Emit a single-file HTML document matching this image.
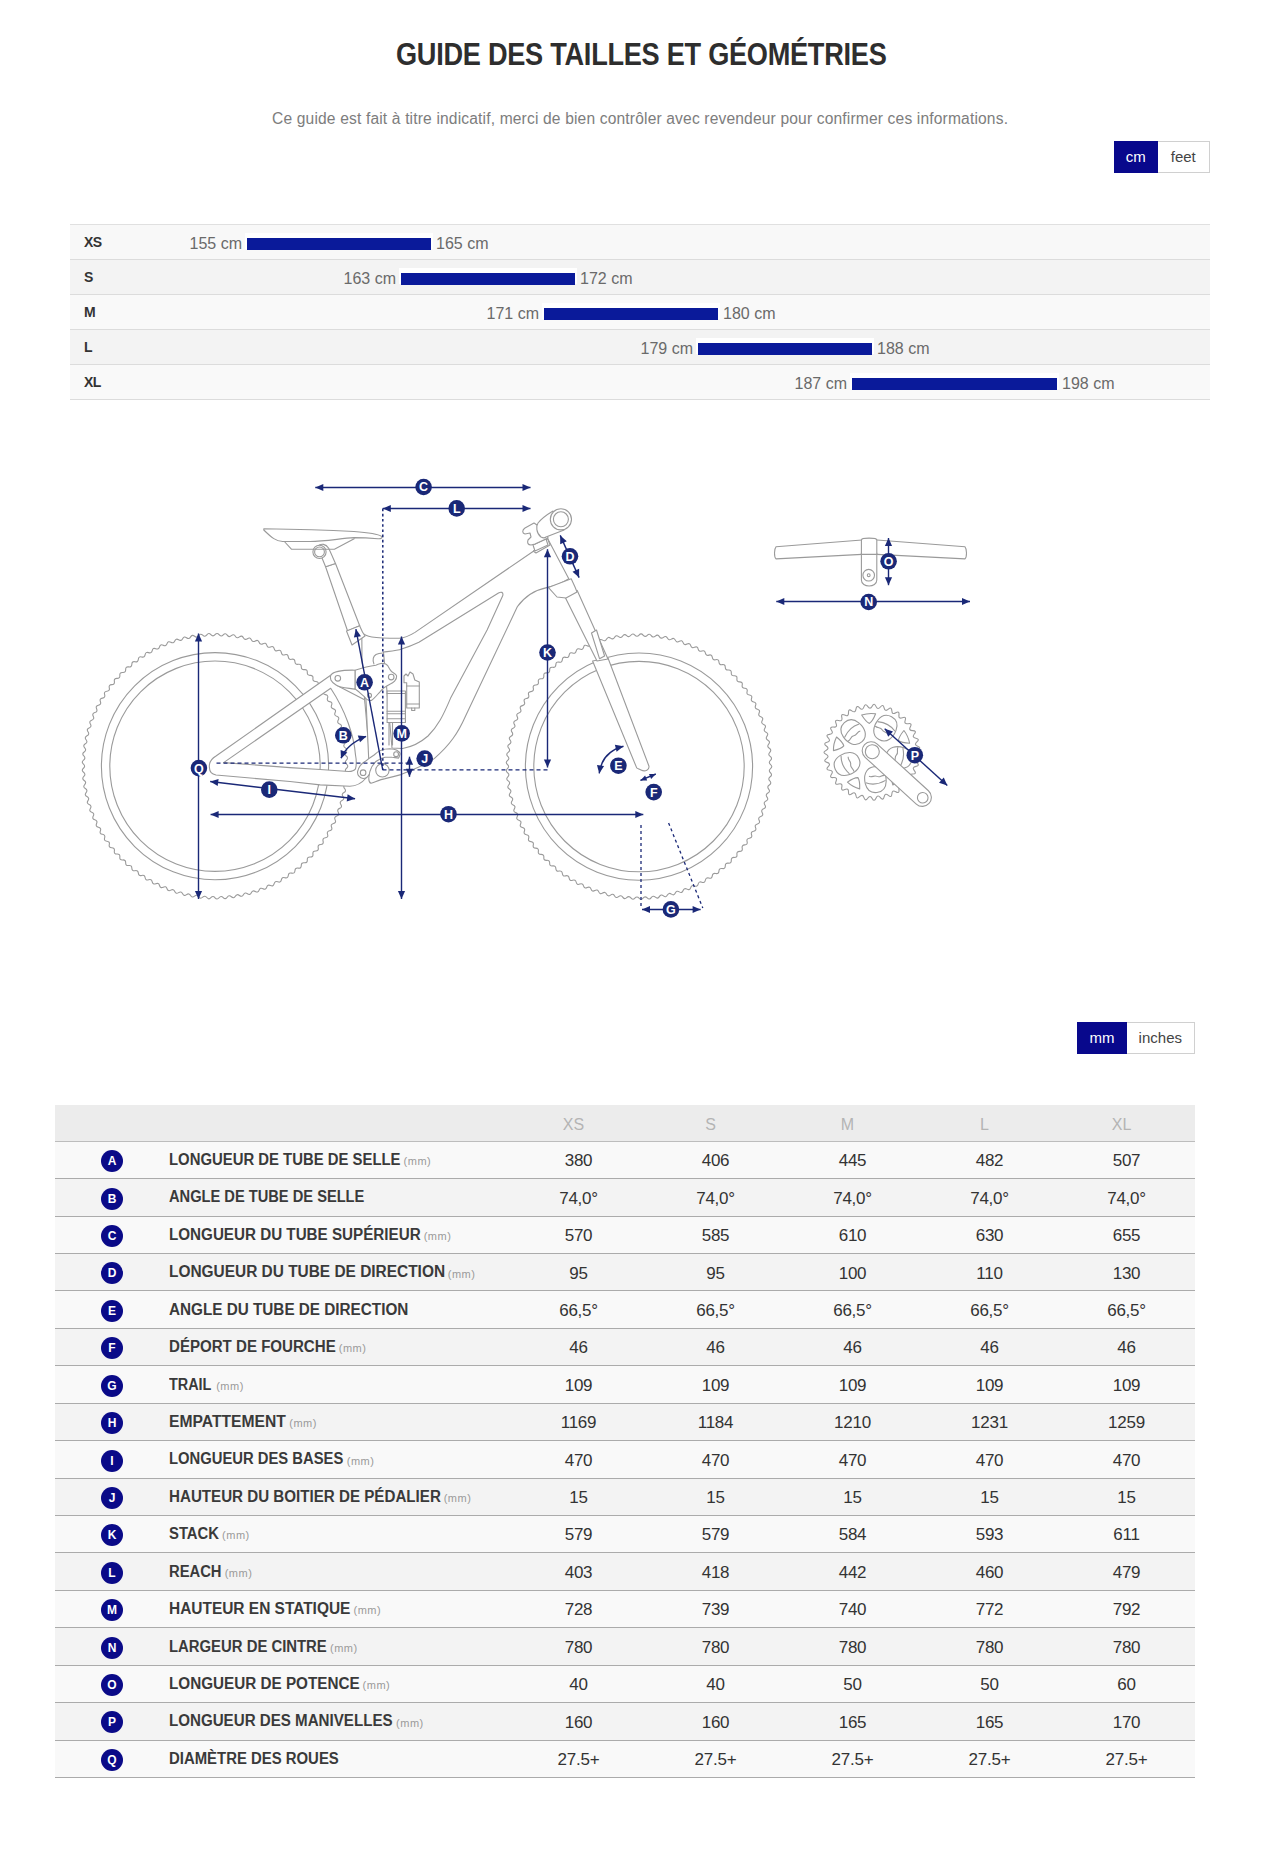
<!DOCTYPE html>
<html><head><meta charset="utf-8">
<style>
*{margin:0;padding:0;box-sizing:border-box}
html,body{width:1270px;height:1850px;background:#fff;overflow:hidden}
body{position:relative;font-family:"Liberation Sans",sans-serif;color:#333}
.a{position:absolute;white-space:nowrap;line-height:1}
#title{left:396px;top:38.5px;font-size:31px;font-weight:700;color:#2e2e2e;letter-spacing:-0.3px;transform:scaleX(0.8755);transform-origin:0 0}
#sub{left:272px;top:111px;font-size:15.6px;color:#7d7d7d;letter-spacing:0.155px}
.tog{position:absolute;display:flex;background:#fff}
.tog div{display:flex;align-items:center;justify-content:center;font-size:15px;color:#444}
.tog .on{background:#08088c;color:#fff}
.tog .off{border:1px solid #d0d0d0;border-left:none}
#sz{position:absolute;left:70px;top:224px;width:1140px;height:176px;border-top:1px solid #e0e0e0}
#sz .r{position:absolute;left:0;width:1140px;height:35px;border-bottom:1px solid #dcdcdc}
#sz .lb{position:absolute;left:14px;font-size:14px;font-weight:700;color:#333;line-height:1}
.n{position:absolute;font-size:16px;color:#6a6a6a;line-height:1;white-space:nowrap}
.bar{position:absolute;height:12px;background:#0a1a9a;box-shadow:0 -3px 0 2px #fff}
.tb{position:absolute}
.c{position:absolute;left:46px;width:22px;height:22px;border-radius:50%;background:#0a0a88;color:#fff;font-size:12px;font-weight:700;display:flex;align-items:center;justify-content:center;line-height:1}
.lab{position:absolute;left:114px;font-size:16px;font-weight:700;color:#3a3a3a;line-height:1;transform-origin:0 0;white-space:nowrap}
.mm{position:absolute;font-size:11px;letter-spacing:0.5px;font-weight:400;color:#9a9a9a;line-height:1;white-space:nowrap}
.v{position:absolute;width:137px;text-align:center;font-size:17px;letter-spacing:-0.25px;color:#333;line-height:1}
</style></head><body>
<div class="a" id="title">GUIDE DES TAILLES ET GÉOMÉTRIES</div>
<div class="a" id="sub">Ce guide est fait à titre indicatif, merci de bien contrôler avec revendeur pour confirmer ces informations.</div>
<div class="tog" style="left:1113.5px;top:140.5px;height:32.5px"><div class="on" style="width:44.5px;padding-bottom:1px">cm</div><div class="off" style="width:51.5px;padding-bottom:1px">feet</div></div>

<div id="sz">
<div class="r" style="top:0;background:#f8f8f8"></div>
<div class="r" style="top:35px;background:#f3f3f3"></div>
<div class="r" style="top:70px;background:#f9f9f9"></div>
<div class="r" style="top:105px;background:#f3f3f3"></div>
<div class="r" style="top:140px;background:#f9f9f9"></div>
</div>
<div class="a" style="left:84px;top:235.3px;font-size:14px;font-weight:700;color:#333;letter-spacing:-0.6px">XS</div>
<div class="bar" style="left:247px;top:238px;width:184px"></div>
<div class="n" style="right:1028px;top:235.8px">155 cm</div>
<div class="n" style="left:436px;top:235.8px">165 cm</div>
<div class="a" style="left:84px;top:270.3px;font-size:14px;font-weight:700;color:#333;letter-spacing:-0.6px">S</div>
<div class="bar" style="left:401px;top:273px;width:174px"></div>
<div class="n" style="right:874px;top:270.8px">163 cm</div>
<div class="n" style="left:580px;top:270.8px">172 cm</div>
<div class="a" style="left:84px;top:305.3px;font-size:14px;font-weight:700;color:#333;letter-spacing:-0.6px">M</div>
<div class="bar" style="left:544px;top:308px;width:174px"></div>
<div class="n" style="right:731px;top:305.8px">171 cm</div>
<div class="n" style="left:723px;top:305.8px">180 cm</div>
<div class="a" style="left:84px;top:340.3px;font-size:14px;font-weight:700;color:#333;letter-spacing:-0.6px">L</div>
<div class="bar" style="left:698px;top:343px;width:174px"></div>
<div class="n" style="right:577px;top:340.8px">179 cm</div>
<div class="n" style="left:877px;top:340.8px">188 cm</div>
<div class="a" style="left:84px;top:375.3px;font-size:14px;font-weight:700;color:#333;letter-spacing:-0.6px">XL</div>
<div class="bar" style="left:852px;top:378px;width:205px"></div>
<div class="n" style="right:423px;top:375.8px">187 cm</div>
<div class="n" style="left:1062px;top:375.8px">198 cm</div>

<svg style="position:absolute;left:0;top:0" width="1270" height="1000" viewBox="0 0 1270 1000">
<path d="M346.57,764.19Q349.00,766.20 346.57,768.21Q344.14,770.22 346.44,772.37Q348.74,774.53 346.19,776.38Q343.64,778.24 345.80,780.53Q347.96,782.83 345.30,784.52Q342.64,786.21 344.66,788.64Q346.67,791.06 343.91,792.59Q341.15,794.11 343.01,796.66Q344.87,799.20 342.02,800.55Q339.17,801.90 340.87,804.55Q342.57,807.21 339.64,808.38Q336.71,809.55 338.24,812.31Q339.77,815.06 336.78,816.05Q333.78,817.03 335.14,819.88Q336.49,822.73 333.44,823.52Q330.39,824.32 331.57,827.24Q332.74,830.17 329.65,830.77Q326.55,831.38 327.55,834.37Q328.54,837.37 325.41,837.78Q322.29,838.19 323.09,841.24Q323.90,844.29 320.75,844.50Q317.60,844.72 318.22,847.81Q318.83,850.91 315.68,850.93Q312.52,850.95 312.94,854.07Q313.36,857.20 310.21,857.02Q307.07,856.85 307.29,859.99Q307.52,863.14 304.38,862.77Q301.25,862.39 301.28,865.55Q301.31,868.70 298.21,868.14Q295.11,867.57 294.94,870.72Q294.77,873.87 291.71,873.11Q288.65,872.35 288.29,875.49Q287.92,878.62 284.91,877.67Q281.91,876.73 281.35,879.83Q280.79,882.94 277.85,881.80Q274.91,880.67 274.16,883.74Q273.41,886.80 270.54,885.49Q267.67,884.18 266.74,887.19Q265.80,890.20 263.02,888.71Q260.24,887.22 259.11,890.17Q257.99,893.12 255.31,891.46Q252.62,889.80 251.32,892.67Q250.02,895.54 247.44,893.72Q244.87,891.90 243.39,894.69Q241.91,897.47 239.45,895.49Q237.00,893.51 235.35,896.20Q233.70,898.89 231.37,896.76Q229.04,894.64 227.22,897.22Q225.41,899.80 223.22,897.53Q221.03,895.26 219.05,897.72Q217.08,900.18 215.04,897.78Q212.99,895.38 210.87,897.72Q208.75,900.05 206.86,897.53Q204.96,895.01 202.70,897.21Q200.44,899.41 198.71,896.77Q196.97,894.14 194.58,896.19Q192.19,898.24 190.62,895.51Q189.06,892.77 186.54,894.67Q184.02,896.57 182.63,893.74Q181.24,890.91 178.61,892.65Q175.98,894.39 174.76,891.48Q173.55,888.57 170.82,890.14Q168.08,891.72 167.05,888.74Q166.02,885.76 163.20,887.16Q160.37,888.56 159.53,885.52Q158.68,882.48 155.78,883.70Q152.87,884.93 152.22,881.84Q151.56,878.75 148.59,879.79Q145.61,880.83 145.15,877.71Q144.69,874.59 141.65,875.45Q138.62,876.30 138.35,873.15Q138.09,870.01 135.00,870.67Q131.92,871.34 131.85,868.18Q131.78,865.03 128.66,865.50Q125.54,865.97 125.67,862.82Q125.80,859.66 122.66,859.94Q119.51,860.21 119.84,857.08Q120.16,853.94 117.01,854.02Q113.85,854.09 114.37,850.98Q114.89,847.87 111.74,847.75Q108.59,847.64 109.29,844.56Q110.00,841.49 106.87,841.18Q103.73,840.86 104.63,837.84Q105.53,834.82 102.41,834.31Q99.30,833.80 100.39,830.84Q101.47,827.88 98.40,827.18Q95.32,826.48 96.59,823.59Q97.86,820.70 94.83,819.81Q91.81,818.92 93.25,816.12Q94.70,813.31 91.73,812.24Q88.77,811.16 90.38,808.45Q92.00,805.74 89.11,804.48Q86.22,803.22 88.00,800.62Q89.78,798.02 86.97,796.58Q84.16,795.15 86.10,792.66Q88.04,790.17 85.33,788.56Q82.62,786.96 84.71,784.59Q86.80,782.23 84.19,780.46Q81.58,778.69 83.82,776.46Q86.05,774.23 83.56,772.30Q81.06,770.37 83.43,768.28Q85.80,766.20 83.43,764.12Q81.06,762.03 83.56,760.10Q86.05,758.17 83.82,755.94Q81.58,753.71 84.19,751.94Q86.80,750.17 84.71,747.81Q82.62,745.44 85.33,743.84Q88.04,742.23 86.10,739.74Q84.16,737.25 86.97,735.82Q89.78,734.38 88.00,731.78Q86.22,729.18 89.11,727.92Q92.00,726.66 90.38,723.95Q88.77,721.24 91.73,720.16Q94.70,719.09 93.25,716.28Q91.81,713.48 94.83,712.59Q97.86,711.70 96.59,708.81Q95.32,705.92 98.40,705.22Q101.47,704.52 100.39,701.56Q99.30,698.60 102.41,698.09Q105.53,697.58 104.63,694.56Q103.73,691.54 106.87,691.22Q110.00,690.91 109.29,687.84Q108.59,684.76 111.74,684.65Q114.89,684.53 114.37,681.42Q113.85,678.31 117.01,678.38Q120.16,678.46 119.84,675.32Q119.51,672.19 122.66,672.46Q125.80,672.74 125.67,669.58Q125.54,666.43 128.66,666.90Q131.78,667.37 131.85,664.22Q131.92,661.06 135.00,661.73Q138.09,662.39 138.35,659.25Q138.62,656.10 141.65,656.95Q144.69,657.81 145.15,654.69Q145.61,651.57 148.59,652.61Q151.56,653.65 152.22,650.56Q152.87,647.47 155.78,648.70Q158.68,649.92 159.53,646.88Q160.37,643.84 163.20,645.24Q166.02,646.64 167.05,643.66Q168.08,640.68 170.82,642.26Q173.55,643.83 174.76,640.92Q175.98,638.01 178.61,639.75Q181.24,641.49 182.63,638.66Q184.02,635.83 186.54,637.73Q189.06,639.63 190.62,636.89Q192.19,634.16 194.58,636.21Q196.97,638.26 198.71,635.63Q200.44,632.99 202.70,635.19Q204.96,637.39 206.86,634.87Q208.75,632.35 210.87,634.68Q212.99,637.02 215.04,634.62Q217.08,632.22 219.05,634.68Q221.03,637.14 223.22,634.87Q225.41,632.60 227.22,635.18Q229.04,637.76 231.37,635.64Q233.70,633.51 235.35,636.20Q237.00,638.89 239.45,636.91Q241.91,634.93 243.39,637.71Q244.87,640.50 247.44,638.68Q250.02,636.86 251.32,639.73Q252.62,642.60 255.31,640.94Q257.99,639.28 259.11,642.23Q260.24,645.18 263.02,643.69Q265.80,642.20 266.74,645.21Q267.67,648.22 270.54,646.91Q273.41,645.60 274.16,648.66Q274.91,651.73 277.85,650.60Q280.79,649.46 281.35,652.57Q281.91,655.67 284.91,654.73Q287.92,653.78 288.29,656.91Q288.65,660.05 291.71,659.29Q294.77,658.53 294.94,661.68Q295.11,664.83 298.21,664.26Q301.31,663.70 301.28,666.85Q301.25,670.01 304.38,669.63Q307.52,669.26 307.29,672.41Q307.07,675.55 310.21,675.38Q313.36,675.20 312.94,678.33Q312.52,681.45 315.68,681.47Q318.83,681.49 318.22,684.59Q317.60,687.68 320.75,687.90Q323.90,688.11 323.09,691.16Q322.29,694.21 325.41,694.62Q328.54,695.03 327.55,698.03Q326.55,701.02 329.65,701.63Q332.74,702.23 331.57,705.16Q330.39,708.08 333.44,708.88Q336.49,709.67 335.14,712.52Q333.78,715.37 336.78,716.35Q339.77,717.34 338.24,720.09Q336.71,722.85 339.64,724.02Q342.57,725.19 340.87,727.85Q339.17,730.50 342.02,731.85Q344.87,733.20 343.01,735.74Q341.15,738.29 343.91,739.81Q346.67,741.34 344.66,743.76Q342.64,746.19 345.30,747.88Q347.96,749.57 345.80,751.87Q343.64,754.16 346.19,756.02Q348.74,757.87 346.44,760.03Q344.14,762.18 346.57,764.19Z" fill="none" stroke="#9a9a9a" stroke-width="1.1"/>
<circle cx="215" cy="766.2" r="113.6" fill="none" stroke="#9a9a9a" stroke-width="1.1"/>
<circle cx="215" cy="766.2" r="105.2" fill="none" stroke="#9a9a9a" stroke-width="1.1"/>
<path d="M770.57,764.59Q773.00,766.60 770.57,768.61Q768.14,770.62 770.44,772.77Q772.74,774.93 770.19,776.78Q767.64,778.64 769.80,780.93Q771.96,783.23 769.30,784.92Q766.64,786.61 768.66,789.04Q770.67,791.46 767.91,792.99Q765.15,794.51 767.01,797.06Q768.87,799.60 766.02,800.95Q763.17,802.30 764.87,804.95Q766.57,807.61 763.64,808.78Q760.71,809.95 762.24,812.71Q763.77,815.46 760.78,816.45Q757.78,817.43 759.14,820.28Q760.49,823.13 757.44,823.92Q754.39,824.72 755.57,827.64Q756.74,830.57 753.65,831.17Q750.55,831.78 751.55,834.77Q752.54,837.77 749.41,838.18Q746.29,838.59 747.09,841.64Q747.90,844.69 744.75,844.90Q741.60,845.12 742.22,848.21Q742.83,851.31 739.68,851.33Q736.52,851.35 736.94,854.47Q737.36,857.60 734.21,857.42Q731.07,857.25 731.29,860.39Q731.52,863.54 728.38,863.17Q725.25,862.79 725.28,865.95Q725.31,869.10 722.21,868.54Q719.11,867.97 718.94,871.12Q718.77,874.27 715.71,873.51Q712.65,872.75 712.29,875.89Q711.92,879.02 708.91,878.07Q705.91,877.13 705.35,880.23Q704.79,883.34 701.85,882.20Q698.91,881.07 698.16,884.14Q697.41,887.20 694.54,885.89Q691.67,884.58 690.74,887.59Q689.80,890.60 687.02,889.11Q684.24,887.62 683.11,890.57Q681.99,893.52 679.31,891.86Q676.62,890.20 675.32,893.07Q674.02,895.94 671.44,894.12Q668.87,892.30 667.39,895.09Q665.91,897.87 663.45,895.89Q661.00,893.91 659.35,896.60Q657.70,899.29 655.37,897.16Q653.04,895.04 651.22,897.62Q649.41,900.20 647.22,897.93Q645.03,895.66 643.05,898.12Q641.08,900.58 639.04,898.18Q636.99,895.78 634.87,898.12Q632.75,900.45 630.86,897.93Q628.96,895.41 626.70,897.61Q624.44,899.81 622.71,897.17Q620.97,894.54 618.58,896.59Q616.19,898.64 614.62,895.91Q613.06,893.17 610.54,895.07Q608.02,896.97 606.63,894.14Q605.24,891.31 602.61,893.05Q599.98,894.79 598.76,891.88Q597.55,888.97 594.82,890.54Q592.08,892.12 591.05,889.14Q590.02,886.16 587.20,887.56Q584.37,888.96 583.53,885.92Q582.68,882.88 579.78,884.10Q576.87,885.33 576.22,882.24Q575.56,879.15 572.59,880.19Q569.61,881.23 569.15,878.11Q568.69,874.99 565.65,875.85Q562.62,876.70 562.35,873.55Q562.09,870.41 559.00,871.07Q555.92,871.74 555.85,868.58Q555.78,865.43 552.66,865.90Q549.54,866.37 549.67,863.22Q549.80,860.06 546.66,860.34Q543.51,860.61 543.84,857.48Q544.16,854.34 541.01,854.42Q537.85,854.49 538.37,851.38Q538.89,848.27 535.74,848.15Q532.59,848.04 533.29,844.96Q534.00,841.89 530.87,841.58Q527.73,841.26 528.63,838.24Q529.53,835.22 526.41,834.71Q523.30,834.20 524.39,831.24Q525.47,828.28 522.40,827.58Q519.32,826.88 520.59,823.99Q521.86,821.10 518.83,820.21Q515.81,819.32 517.25,816.52Q518.70,813.71 515.73,812.64Q512.77,811.56 514.38,808.85Q516.00,806.14 513.11,804.88Q510.22,803.62 512.00,801.02Q513.78,798.42 510.97,796.98Q508.16,795.55 510.10,793.06Q512.04,790.57 509.33,788.96Q506.62,787.36 508.71,784.99Q510.80,782.63 508.19,780.86Q505.58,779.09 507.82,776.86Q510.05,774.63 507.56,772.70Q505.06,770.77 507.43,768.68Q509.80,766.60 507.43,764.52Q505.06,762.43 507.56,760.50Q510.05,758.57 507.82,756.34Q505.58,754.11 508.19,752.34Q510.80,750.57 508.71,748.21Q506.62,745.84 509.33,744.24Q512.04,742.63 510.10,740.14Q508.16,737.65 510.97,736.22Q513.78,734.78 512.00,732.18Q510.22,729.58 513.11,728.32Q516.00,727.06 514.38,724.35Q512.77,721.64 515.73,720.56Q518.70,719.49 517.25,716.68Q515.81,713.88 518.83,712.99Q521.86,712.10 520.59,709.21Q519.32,706.32 522.40,705.62Q525.47,704.92 524.39,701.96Q523.30,699.00 526.41,698.49Q529.53,697.98 528.63,694.96Q527.73,691.94 530.87,691.62Q534.00,691.31 533.29,688.24Q532.59,685.16 535.74,685.05Q538.89,684.93 538.37,681.82Q537.85,678.71 541.01,678.78Q544.16,678.86 543.84,675.72Q543.51,672.59 546.66,672.86Q549.80,673.14 549.67,669.98Q549.54,666.83 552.66,667.30Q555.78,667.77 555.85,664.62Q555.92,661.46 559.00,662.13Q562.09,662.79 562.35,659.65Q562.62,656.50 565.65,657.35Q568.69,658.21 569.15,655.09Q569.61,651.97 572.59,653.01Q575.56,654.05 576.22,650.96Q576.87,647.87 579.78,649.10Q582.68,650.32 583.53,647.28Q584.37,644.24 587.20,645.64Q590.02,647.04 591.05,644.06Q592.08,641.08 594.82,642.66Q597.55,644.23 598.76,641.32Q599.98,638.41 602.61,640.15Q605.24,641.89 606.63,639.06Q608.02,636.23 610.54,638.13Q613.06,640.03 614.62,637.29Q616.19,634.56 618.58,636.61Q620.97,638.66 622.71,636.03Q624.44,633.39 626.70,635.59Q628.96,637.79 630.86,635.27Q632.75,632.75 634.87,635.08Q636.99,637.42 639.04,635.02Q641.08,632.62 643.05,635.08Q645.03,637.54 647.22,635.27Q649.41,633.00 651.22,635.58Q653.04,638.16 655.37,636.04Q657.70,633.91 659.35,636.60Q661.00,639.29 663.45,637.31Q665.91,635.33 667.39,638.11Q668.87,640.90 671.44,639.08Q674.02,637.26 675.32,640.13Q676.62,643.00 679.31,641.34Q681.99,639.68 683.11,642.63Q684.24,645.58 687.02,644.09Q689.80,642.60 690.74,645.61Q691.67,648.62 694.54,647.31Q697.41,646.00 698.16,649.06Q698.91,652.13 701.85,651.00Q704.79,649.86 705.35,652.97Q705.91,656.07 708.91,655.13Q711.92,654.18 712.29,657.31Q712.65,660.45 715.71,659.69Q718.77,658.93 718.94,662.08Q719.11,665.23 722.21,664.66Q725.31,664.10 725.28,667.25Q725.25,670.41 728.38,670.03Q731.52,669.66 731.29,672.81Q731.07,675.95 734.21,675.78Q737.36,675.60 736.94,678.73Q736.52,681.85 739.68,681.87Q742.83,681.89 742.22,684.99Q741.60,688.08 744.75,688.30Q747.90,688.51 747.09,691.56Q746.29,694.61 749.41,695.02Q752.54,695.43 751.55,698.43Q750.55,701.42 753.65,702.03Q756.74,702.63 755.57,705.56Q754.39,708.48 757.44,709.28Q760.49,710.07 759.14,712.92Q757.78,715.77 760.78,716.75Q763.77,717.74 762.24,720.49Q760.71,723.25 763.64,724.42Q766.57,725.59 764.87,728.25Q763.17,730.90 766.02,732.25Q768.87,733.60 767.01,736.14Q765.15,738.69 767.91,740.21Q770.67,741.74 768.66,744.16Q766.64,746.59 769.30,748.28Q771.96,749.97 769.80,752.27Q767.64,754.56 770.19,756.42Q772.74,758.27 770.44,760.43Q768.14,762.58 770.57,764.59Z" fill="none" stroke="#9a9a9a" stroke-width="1.1"/>
<circle cx="639" cy="766.6" r="113.6" fill="none" stroke="#9a9a9a" stroke-width="1.1"/>
<circle cx="639" cy="766.6" r="105.2" fill="none" stroke="#9a9a9a" stroke-width="1.1"/>
<g fill="#fff" stroke="#9a9a9a" stroke-width="1.1" stroke-linejoin="round" stroke-linecap="round">
<path fill-rule="evenodd" d="M209.5,768 C208.5,762 211,759 216,756 L331,675 C335,672 339,673 340,677 L338,686 L365,700 L371.4,752.4 L366,778 C362,783 356,786 349.8,786.2 L320.2,784.9 L290,781.5 L216,775 C211,774 209.5,771 209.5,768 Z M223.6,762.6 L330.7,688.3 C345,710 354,735 355.5,755 C356.5,760 356.5,765 355.5,768.9 C354,771 351,771.5 348.6,771.5 L320.2,769.5 L290,767.6 Z"/>
<path d="M363,640 L364.4,697 L368.9,748 L380,748 L380.2,691 L377,640 Z"/>
<path fill-rule="evenodd" d="M361.8,632.4 C366,637 372,638.3 399.2,638.3 C405,638 410,635.5 415,632.4 L533.4,551.2 L547.6,538.6 L568.8,578.7 C562,583 555,586 547.6,587.4 C535.7,589.8 525,596 517.3,606.8 L465.7,715.7 C458,733 450,745 434.2,758.6 C424,766 416,768 400.9,774.6 C394,776.5 390,777.5 385.1,778.6 C380,779.5 375,782 370.9,783.3 C368,782 368.5,778 369.4,773.9 L366,700 L362,660 Z M383.5,652 C392,651 398,650.5 401.6,649 C408,647 413,645 418.9,642.2 L498.5,593 C501,591.5 503.5,592 502.8,595.5 L487.1,630 L450.6,698.1 C443,716 438,726 428,736 C420,743 411,747 402.7,748.5 L392,748 Z"/>
<path d="M355,670.2 C362,668 370,666 375.8,665.2 C379,664 381,663.3 382.1,663.3 C385,663.5 387,664.5 387.8,665.8 C389,668 390,670 391.5,671.5 C394,673 396,674 396.6,676 C397,680 393,683 390.3,684 C386,686 383,688 380.2,691.6 C377,695 374,699 371.4,700.4 C368,701 366,699 364.4,696.7 C360,693 357,690 355,689.1 Z"/>
<path d="M331,675 C334,671 345,670 355,670.2 L355,689.1 C348,688 340,688 336,685 C331,682 329,678 331,675 Z"/>
<circle cx="337.8" cy="678.3" r="2.8"/><circle cx="391.2" cy="677.1" r="2.8"/><circle cx="369.5" cy="695.4" r="2"/>
<path d="M373.9,663.9 C372.5,660 373,656.5 376,654.5 C378,653.5 380,653.2 383,653" fill="none"/>
<path d="M387.1,691 L405.4,691 L405.4,722.5 L387.1,722.5 Z"/>
<path d="M387.1,693.5 H405.4 M387.1,711.3 H405.4 M387.1,713.8 H405.4 M387.1,718.7 H405.4" fill="none"/>
<path d="M389,722.5 L389,745 M392.5,722.5 L392.5,745" fill="none"/>
<path d="M404,682.8 L404,676 L406,674 L408,676 L410,672 L413,674 L414.8,680 L419.3,682 L419.3,708 L406.7,708 L406.7,682.8 Z"/>
<path d="M406.7,686 H419.3 M406.7,704 H419.3 M411.7,708 V710.5 H414.8 V708" fill="none"/>
<path d="M357.6,771.5 C359,766 362,763 365.4,761.3 C368,759 371,757 374.1,755 C377,752 379,751 381.2,750.2 C384,749 387,748.7 389.8,748.7 C393,748.8 395,749 396.9,750.2 C399,751.5 400.5,753 400,754.2 C399.5,756.5 398.8,757.8 398.5,758.1 C396,758 394,757.3 392.2,757.3 C389,757.2 387,757.2 385.1,757.3 C382,758 380,759 378.8,759.7 C376,761 375,762 374.1,763.6 C372,766 371,768 370.9,769.1 C370,771 369.6,772.5 369.4,773.9 C368,777 365,778.5 363,778.5 C360,778 357,775 357.6,771.5 Z"/>
<circle cx="382.4" cy="770.3" r="6.7"/><circle cx="363.1" cy="772.7" r="2.8"/><circle cx="396.1" cy="754.2" r="2.4"/>
<path d="M325.6,566.8 L347.6,631 L359.7,625.8 L335.5,563.5 Z"/>
<path d="M346.5,631 L359.7,625.8 C361,629 362,632 365,636 L352,645 Z"/>
<path d="M322,558 C317,555 316,550 318,546 C321,543 326,544 328.5,548 C331,553 333,558 335.5,563.5 L325.6,566.8 Z"/>
<circle cx="319.5" cy="551.9" r="6.6"/><circle cx="319.5" cy="551.9" r="4.9"/>
<path d="M263.8,528.8 C290,529.2 321,529.9 354,531.5 C368,532.5 378,534 381.8,536.5 C382.5,538 381,539 378,538.7 C370,538 360,537.6 354,537.6 C340,538.5 325,541.5 310,541.5 L282.6,541.5 C276,541 272,538.1 263.8,530 Z"/>
<path d="M284.8,542 L291.4,549.2 L334.4,549.2 L354.2,538.7" fill="none"/>
<path d="M592.6,661 L608,658 L648.8,765.7 C650,770 645,772 641,770 C639,769 637.5,768.5 636.7,767.9 Z"/>
<path d="M563.9,594.8 L577.2,590.4 L608,659 L597,661 Z"/>
<path d="M591.5,633 L596.5,630 L604.6,656 L599.5,658.7 Z"/>
<path d="M548.3,587.4 L571.2,578.7 L575,587 L577,592 L566,598 L557,597 Z"/>
<path d="M533.4,551.2 L547.6,538.6 L550,545 L536,553 Z"/>
<path d="M533,545 L546,539 L548,545 L535,551 Z"/>
<path d="M534,523 L525,528 C522,530 522,533 525,534 L530,533 L531,537 L528,540 C527,543 528,545 531,545 L535,544 L548,538 L546,531 Z"/>
<path d="M538,523 C536,526 536,533 541,537 C543,538 545,538 546,537 L564.1,529.9 L553,511 C548,514 542,518 538,523 Z"/>
<circle cx="560.9" cy="519.3" r="10.6"/><circle cx="560.9" cy="519.3" r="7.5"/>
</g>
<g fill="#fff" stroke="#9a9a9a" stroke-width="1.1" stroke-linejoin="round">
<path d="M776,546.8 L862,540 L877,540 L965,546.8 C967,549 967,557 965,558.9 L877,554.4 L862,554.4 L776,558.9 C774,557 774,549 776,546.8 Z"/>
<path d="M861.4,553 L861.4,580 C861.4,588 876.8,588 876.8,580 L876.8,553 Z"/>
<path d="M861.4,540 C861.4,537.5 876.8,537.5 876.8,540 L876.8,554.4 L861.4,554.4 Z"/>
<circle cx="868.7" cy="575.2" r="5.8"/><circle cx="868.7" cy="575.2" r="1.4"/>
</g>
<path d="M918.05,750.06Q914.30,752.30 918.05,754.54Q921.80,756.78 917.71,758.32Q913.62,759.85 916.91,762.73Q920.20,765.60 915.90,766.38Q911.60,767.16 914.33,770.58Q917.05,773.99 912.68,773.99Q908.31,774.00 910.38,777.84Q912.45,781.69 908.15,780.91Q903.85,780.13 905.20,784.29Q906.55,788.44 902.46,786.91Q898.37,785.37 898.96,789.70Q899.54,794.03 895.79,791.79Q892.04,789.55 891.85,793.91Q891.65,798.28 888.36,795.40Q885.07,792.53 884.10,796.79Q883.13,801.05 880.40,797.63Q877.68,794.22 875.96,798.23Q874.24,802.25 872.17,798.40Q870.10,794.56 867.70,798.20Q865.29,801.85 863.94,797.69Q862.59,793.54 859.57,796.70Q856.55,799.85 855.96,795.52Q855.38,791.20 851.84,793.76Q848.31,796.33 848.50,791.97Q848.70,787.60 844.76,789.50Q840.83,791.39 841.80,787.13Q842.77,782.87 838.56,784.04Q834.35,785.20 836.06,781.18Q837.78,777.16 833.43,777.55Q829.08,777.94 831.48,774.30Q833.89,770.65 829.54,770.26Q825.19,769.87 828.21,766.71Q831.22,763.55 827.01,762.39Q822.80,761.23 826.34,758.66Q829.87,756.09 825.94,754.20Q822.00,752.30 825.94,750.40Q829.87,748.51 826.34,745.94Q822.80,743.37 827.01,742.21Q831.22,741.05 828.21,737.89Q825.19,734.73 829.54,734.34Q833.89,733.95 831.48,730.30Q829.08,726.66 833.43,727.05Q837.78,727.44 836.06,723.42Q834.35,719.40 838.56,720.56Q842.77,721.73 841.80,717.47Q840.83,713.21 844.76,715.10Q848.70,717.00 848.50,712.63Q848.31,708.27 851.84,710.84Q855.38,713.40 855.96,709.08Q856.55,704.75 859.57,707.90Q862.59,711.06 863.94,706.91Q865.29,702.75 867.70,706.40Q870.10,710.04 872.17,706.20Q874.24,702.35 875.96,706.37Q877.68,710.38 880.40,706.97Q883.13,703.55 884.10,707.81Q885.07,712.07 888.36,709.20Q891.65,706.32 891.85,710.69Q892.04,715.05 895.79,712.81Q899.54,710.57 898.96,714.90Q898.37,719.23 902.46,717.69Q906.55,716.16 905.20,720.31Q903.85,724.47 908.15,723.69Q912.45,722.91 910.38,726.76Q908.31,730.60 912.68,730.61Q917.05,730.61 914.33,734.02Q911.60,737.44 915.90,738.22Q920.20,739.00 916.91,741.87Q913.62,744.75 917.71,746.28Q921.80,747.82 918.05,750.06Z" fill="#fff" stroke="#9a9a9a" stroke-width="1.1" stroke-linejoin="round"/>
<g fill="#fff" stroke="#9a9a9a" stroke-width="1.1" stroke-linejoin="round">
<g transform="translate(853.2 732.2) rotate(-133)"><path d="M-13,0 C-13,-9 -4,-11.5 3,-10.5 C10,-9.5 13,-5 13,0 C13,5 10,9.5 3,10.5 C-4,11.5 -13,9 -13,0 Z"/><path d="M-3,-10 C-4,-6 -1,-5 -3,-2 C-5,1 -2,3 -4,6" fill="none"/><path d="M2,-10 C5,-3 5,4 2,10" fill="none"/></g>
<g transform="translate(885.3 728.2) rotate(-61)"><path d="M-13,0 C-13,-9 -4,-11.5 3,-10.5 C10,-9.5 13,-5 13,0 C13,5 10,9.5 3,10.5 C-4,11.5 -13,9 -13,0 Z"/><path d="M-3,-10 C-4,-6 -1,-5 -3,-2 C-5,1 -2,3 -4,6" fill="none"/><path d="M2,-10 C5,-3 5,4 2,10" fill="none"/></g>
<g transform="translate(899.0 757.5) rotate(11)"><path d="M-13,0 C-13,-9 -4,-11.5 3,-10.5 C10,-9.5 13,-5 13,0 C13,5 10,9.5 3,10.5 C-4,11.5 -13,9 -13,0 Z"/><path d="M-3,-10 C-4,-6 -1,-5 -3,-2 C-5,1 -2,3 -4,6" fill="none"/><path d="M2,-10 C5,-3 5,4 2,10" fill="none"/></g>
<g transform="translate(875.4 779.6) rotate(83)"><path d="M-13,0 C-13,-9 -4,-11.5 3,-10.5 C10,-9.5 13,-5 13,0 C13,5 10,9.5 3,10.5 C-4,11.5 -13,9 -13,0 Z"/><path d="M-3,-10 C-4,-6 -1,-5 -3,-2 C-5,1 -2,3 -4,6" fill="none"/><path d="M2,-10 C5,-3 5,4 2,10" fill="none"/></g>
<g transform="translate(847.1 763.9) rotate(155)"><path d="M-13,0 C-13,-9 -4,-11.5 3,-10.5 C10,-9.5 13,-5 13,0 C13,5 10,9.5 3,10.5 C-4,11.5 -13,9 -13,0 Z"/><path d="M-3,-10 C-4,-6 -1,-5 -3,-2 C-5,1 -2,3 -4,6" fill="none"/><path d="M2,-10 C5,-3 5,4 2,10" fill="none"/></g>
<g transform="translate(869.0 718.4) rotate(-95)"><path d="M4,-7 C5,-3 5,3 4,7 C0,5 -4,2 -5,0 C-4,-2 0,-5 4,-7 Z"/></g>
<g transform="translate(903.1 738.5) rotate(-24)"><path d="M4,-7 C5,-3 5,3 4,7 C0,5 -4,2 -5,0 C-4,-2 0,-5 4,-7 Z"/></g>
<g transform="translate(895.2 777.2) rotate(47)"><path d="M4,-7 C5,-3 5,3 4,7 C0,5 -4,2 -5,0 C-4,-2 0,-5 4,-7 Z"/></g>
<g transform="translate(855.5 782.0) rotate(119)"><path d="M4,-7 C5,-3 5,3 4,7 C0,5 -4,2 -5,0 C-4,-2 0,-5 4,-7 Z"/></g>
<g transform="translate(838.9 744.7) rotate(193)"><path d="M4,-7 C5,-3 5,3 4,7 C0,5 -4,2 -5,0 C-4,-2 0,-5 4,-7 Z"/></g>
</g>
<g transform="translate(872.3 751.7) rotate(42.4)" fill="#fff" stroke="#9a9a9a" stroke-width="1.1"><rect x="-10.5" y="-9" width="87.3" height="18" rx="9"/><circle cx="0" cy="0" r="7"/><circle cx="68.3" cy="0" r="5.3"/></g>
<g>
<path d="M382.8,508.6 V770" stroke="#1a2877" stroke-width="1.5" stroke-dasharray="2.6,2.6" fill="none"/>
<path d="M382.5,769.9 H547.5" stroke="#1a2877" stroke-width="1.4" stroke-dasharray="4,3" fill="none"/>
<path d="M216.5,763.2 H408" stroke="#1a2877" stroke-width="1.3" stroke-dasharray="4,3" fill="none"/>
<path d="M641,825 V908" stroke="#1a2877" stroke-width="1.3" stroke-dasharray="3,3" fill="none"/>
<path d="M668.6,823 L702.8,908" stroke="#1a2877" stroke-width="1.3" stroke-dasharray="3,3" fill="none"/>
<path d="M315.3,487.5 L530.5,487.5" stroke="#1a2877" stroke-width="1.4" fill="none"/><path d="M530.5,487.5 L522.5,491.1 L522.5,483.9 Z" fill="#1a2877"/><path d="M315.3,487.5 L323.3,483.9 L323.3,491.1 Z" fill="#1a2877"/>
<path d="M382.8,508.5 L530.5,508.5" stroke="#1a2877" stroke-width="1.4" fill="none"/><path d="M530.5,508.5 L522.5,512.1 L522.5,504.9 Z" fill="#1a2877"/><path d="M382.8,508.5 L390.8,504.9 L390.8,512.1 Z" fill="#1a2877"/>
<path d="M198.5,633.5 L198.5,899.0" stroke="#1a2877" stroke-width="1.4" fill="none"/><path d="M198.5,899.0 L194.9,891.0 L202.1,891.0 Z" fill="#1a2877"/><path d="M198.5,633.5 L202.1,641.5 L194.9,641.5 Z" fill="#1a2877"/>
<path d="M210.2,781.5 L355.1,798.8" stroke="#1a2877" stroke-width="1.4" fill="none"/><path d="M355.1,798.8 L346.7,801.4 L347.6,794.3 Z" fill="#1a2877"/><path d="M210.2,781.5 L218.6,778.9 L217.7,786.0 Z" fill="#1a2877"/>
<path d="M210.6,814.5 L643.3,814.5" stroke="#1a2877" stroke-width="1.4" fill="none"/><path d="M643.3,814.5 L635.3,818.1 L635.3,810.9 Z" fill="#1a2877"/><path d="M210.6,814.5 L218.6,810.9 L218.6,818.1 Z" fill="#1a2877"/>
<path d="M642.0,909.5 L700.6,909.5" stroke="#1a2877" stroke-width="1.4" fill="none"/><path d="M700.6,909.5 L692.6,913.1 L692.6,905.9 Z" fill="#1a2877"/><path d="M642.0,909.5 L650.0,905.9 L650.0,913.1 Z" fill="#1a2877"/>
<path d="M401.5,636.4 L401.5,899.0" stroke="#1a2877" stroke-width="1.4" fill="none"/><path d="M401.5,899.0 L397.9,891.0 L405.1,891.0 Z" fill="#1a2877"/><path d="M401.5,636.4 L405.1,644.4 L397.9,644.4 Z" fill="#1a2877"/>
<path d="M382.7,769.7 L355.9,629.1" stroke="#1a2877" stroke-width="1.4" fill="none"/><path d="M355.9,629.1 L360.9,636.3 L353.9,637.6 Z" fill="#1a2877"/>
<path d="M547.5,549.2 L547.5,767.5" stroke="#1a2877" stroke-width="1.4" fill="none"/><path d="M547.5,767.5 L543.9,759.5 L551.1,759.5 Z" fill="#1a2877"/><path d="M547.5,549.2 L551.1,557.2 L543.9,557.2 Z" fill="#1a2877"/>
<path d="M409.5,756.7 L409.5,776.8" stroke="#1a2877" stroke-width="1.4" fill="none"/><path d="M409.5,776.8 L405.9,768.8 L413.1,768.8 Z" fill="#1a2877"/><path d="M409.5,756.7 L413.1,764.7 L405.9,764.7 Z" fill="#1a2877"/>
<path d="M560.2,535.4 L579.1,577.6" stroke="#1a2877" stroke-width="1.4" fill="none"/><path d="M579.1,577.6 L572.5,571.8 L579.1,568.8 Z" fill="#1a2877"/><path d="M560.2,535.4 L566.8,541.2 L560.2,544.2 Z" fill="#1a2877"/>
<path d="M888.5,538.0 L888.5,585.2" stroke="#1a2877" stroke-width="1.4" fill="none"/><path d="M888.5,585.2 L884.9,577.2 L892.1,577.2 Z" fill="#1a2877"/><path d="M888.5,538.0 L892.1,546.0 L884.9,546.0 Z" fill="#1a2877"/>
<path d="M776.3,601.5 L970.0,601.5" stroke="#1a2877" stroke-width="1.4" fill="none"/><path d="M970.0,601.5 L962.0,605.1 L962.0,597.9 Z" fill="#1a2877"/><path d="M776.3,601.5 L784.3,597.9 L784.3,605.1 Z" fill="#1a2877"/>
<path d="M884.7,728.7 L947.3,785.4" stroke="#1a2877" stroke-width="1.4" fill="none"/><path d="M947.3,785.4 L939.0,782.7 L943.8,777.4 Z" fill="#1a2877"/><path d="M884.7,728.7 L893.0,731.4 L888.2,736.7 Z" fill="#1a2877"/>
<path d="M640.4,780.4 L655.8,774.0" stroke="#1a2877" stroke-width="1.4" fill="none"/><path d="M655.8,774.0 L651.1,778.9 L649.0,773.9 Z" fill="#1a2877"/><path d="M640.4,780.4 L645.1,775.5 L647.2,780.5 Z" fill="#1a2877"/>
<path d="M341,758 Q347,744 366,736.3" stroke="#1a2877" stroke-width="1.4" fill="none"/><path d="M341.0,758.7 L340.6,749.9 L347.3,752.6 Z" fill="#1a2877"/><path d="M366.5,736.3 L360.0,742.2 L357.8,735.4 Z" fill="#1a2877"/>
<path d="M599.2,773.4 Q602,752 623.5,746.3" stroke="#1a2877" stroke-width="1.4" fill="none"/><path d="M599.2,773.4 L597.0,764.9 L604.1,766.1 Z" fill="#1a2877"/><path d="M623.5,746.3 L616.6,751.7 L614.9,744.7 Z" fill="#1a2877"/>
<circle cx="423.6" cy="487" r="8.3" fill="#1a2877"/><text x="423.6" y="491.4" fill="#fff" font-family="Liberation Sans" font-weight="700" font-size="12.5" text-anchor="middle">C</text>
<circle cx="456.7" cy="508.4" r="8.3" fill="#1a2877"/><text x="456.7" y="512.8" fill="#fff" font-family="Liberation Sans" font-weight="700" font-size="12.5" text-anchor="middle">L</text>
<circle cx="570" cy="556.3" r="8.3" fill="#1a2877"/><text x="570" y="560.7" fill="#fff" font-family="Liberation Sans" font-weight="700" font-size="12.5" text-anchor="middle">D</text>
<circle cx="547.5" cy="652.5" r="8.3" fill="#1a2877"/><text x="547.5" y="656.9" fill="#fff" font-family="Liberation Sans" font-weight="700" font-size="12.5" text-anchor="middle">K</text>
<circle cx="364.6" cy="682.3" r="8.3" fill="#1a2877"/><text x="364.6" y="686.7" fill="#fff" font-family="Liberation Sans" font-weight="700" font-size="12.5" text-anchor="middle">A</text>
<circle cx="401.7" cy="733.4" r="8.3" fill="#1a2877"/><text x="401.7" y="737.8" fill="#fff" font-family="Liberation Sans" font-weight="700" font-size="12.5" text-anchor="middle">M</text>
<circle cx="343.3" cy="735.3" r="8.3" fill="#1a2877"/><text x="343.3" y="739.7" fill="#fff" font-family="Liberation Sans" font-weight="700" font-size="12.5" text-anchor="middle">B</text>
<circle cx="424.7" cy="758.6" r="8.3" fill="#1a2877"/><text x="424.7" y="763.0" fill="#fff" font-family="Liberation Sans" font-weight="700" font-size="12.5" text-anchor="middle">J</text>
<circle cx="198.9" cy="768.1" r="8.3" fill="#1a2877"/><text x="198.9" y="772.5" fill="#fff" font-family="Liberation Sans" font-weight="700" font-size="12.5" text-anchor="middle">Q</text>
<circle cx="269.3" cy="789.6" r="8.3" fill="#1a2877"/><text x="269.3" y="794.0" fill="#fff" font-family="Liberation Sans" font-weight="700" font-size="12.5" text-anchor="middle">I</text>
<circle cx="448.5" cy="814.2" r="8.3" fill="#1a2877"/><text x="448.5" y="818.6" fill="#fff" font-family="Liberation Sans" font-weight="700" font-size="12.5" text-anchor="middle">H</text>
<circle cx="618.4" cy="765.7" r="8.3" fill="#1a2877"/><text x="618.4" y="770.1" fill="#fff" font-family="Liberation Sans" font-weight="700" font-size="12.5" text-anchor="middle">E</text>
<circle cx="653.7" cy="792.1" r="8.3" fill="#1a2877"/><text x="653.7" y="796.5" fill="#fff" font-family="Liberation Sans" font-weight="700" font-size="12.5" text-anchor="middle">F</text>
<circle cx="670.9" cy="909.4" r="8.3" fill="#1a2877"/><text x="670.9" y="913.8" fill="#fff" font-family="Liberation Sans" font-weight="700" font-size="12.5" text-anchor="middle">G</text>
<circle cx="888.6" cy="561.3" r="8.3" fill="#1a2877"/><text x="888.6" y="565.7" fill="#fff" font-family="Liberation Sans" font-weight="700" font-size="12.5" text-anchor="middle">O</text>
<circle cx="868.7" cy="602" r="8.3" fill="#1a2877"/><text x="868.7" y="606.4" fill="#fff" font-family="Liberation Sans" font-weight="700" font-size="12.5" text-anchor="middle">N</text>
<circle cx="914.8" cy="755.2" r="8.3" fill="#1a2877"/><text x="914.8" y="759.6" fill="#fff" font-family="Liberation Sans" font-weight="700" font-size="12.5" text-anchor="middle">P</text>
</g>
</svg>

<div class="tog" style="left:1077px;top:1022px;height:32px"><div class="on" style="width:50px;padding-bottom:1px">mm</div><div class="off" style="width:67.6px;padding-bottom:1px">inches</div></div>

<div class="tb" style="left:55px;top:1105px;width:1140px;height:36px;background:#ececec"></div>
<div class="a" style="left:523.5px;width:100px;text-align:center;top:1116.5px;font-size:16px;color:#b4b4b4">XS</div>
<div class="a" style="left:660.5px;width:100px;text-align:center;top:1116.5px;font-size:16px;color:#b4b4b4">S</div>
<div class="a" style="left:797.5px;width:100px;text-align:center;top:1116.5px;font-size:16px;color:#b4b4b4">M</div>
<div class="a" style="left:934.5px;width:100px;text-align:center;top:1116.5px;font-size:16px;color:#b4b4b4">L</div>
<div class="a" style="left:1071.5px;width:100px;text-align:center;top:1116.5px;font-size:16px;color:#b4b4b4">XL</div>
<div class="tb" style="left:55px;top:1141px;width:1140px;height:37px;background:#f9f9f9"></div>
<div class="c" style="left:101px;top:1150.1px">A</div>
<div class="lab" style="left:168.67px;top:1152.0px;transform:scaleX(0.9300)">LONGUEUR DE TUBE DE SELLE</div>
<div class="mm" style="left:403.6px;top:1156.2px">(mm)</div>
<div class="v" style="left:510.0px;top:1152.2px">380</div>
<div class="v" style="left:647.0px;top:1152.2px">406</div>
<div class="v" style="left:784.0px;top:1152.2px">445</div>
<div class="v" style="left:921.0px;top:1152.2px">482</div>
<div class="v" style="left:1058.0px;top:1152.2px">507</div>
<div class="tb" style="left:55px;top:1178px;width:1140px;height:38px;background:#f3f3f3"></div>
<div class="c" style="left:101px;top:1187.5px">B</div>
<div class="lab" style="left:168.68px;top:1189.4px;transform:scaleX(0.9156)">ANGLE DE TUBE DE SELLE</div>
<div class="v" style="left:510.0px;top:1189.6px">74,0°</div>
<div class="v" style="left:647.0px;top:1189.6px">74,0°</div>
<div class="v" style="left:784.0px;top:1189.6px">74,0°</div>
<div class="v" style="left:921.0px;top:1189.6px">74,0°</div>
<div class="v" style="left:1058.0px;top:1189.6px">74,0°</div>
<div class="tb" style="left:55px;top:1216px;width:1140px;height:37px;background:#f9f9f9"></div>
<div class="c" style="left:101px;top:1224.9px">C</div>
<div class="lab" style="left:168.65px;top:1226.8px;transform:scaleX(0.9498)">LONGUEUR DU TUBE SUPÉRIEUR</div>
<div class="mm" style="left:423.7px;top:1231.0px">(mm)</div>
<div class="v" style="left:510.0px;top:1227.0px">570</div>
<div class="v" style="left:647.0px;top:1227.0px">585</div>
<div class="v" style="left:784.0px;top:1227.0px">610</div>
<div class="v" style="left:921.0px;top:1227.0px">630</div>
<div class="v" style="left:1058.0px;top:1227.0px">655</div>
<div class="tb" style="left:55px;top:1253px;width:1140px;height:37px;background:#f3f3f3"></div>
<div class="c" style="left:101px;top:1262.4px">D</div>
<div class="lab" style="left:168.64px;top:1264.3px;transform:scaleX(0.9644)">LONGUEUR DU TUBE DE DIRECTION</div>
<div class="mm" style="left:447.8px;top:1268.5px">(mm)</div>
<div class="v" style="left:510.0px;top:1264.5px">95</div>
<div class="v" style="left:647.0px;top:1264.5px">95</div>
<div class="v" style="left:784.0px;top:1264.5px">100</div>
<div class="v" style="left:921.0px;top:1264.5px">110</div>
<div class="v" style="left:1058.0px;top:1264.5px">130</div>
<div class="tb" style="left:55px;top:1290px;width:1140px;height:38px;background:#f9f9f9"></div>
<div class="c" style="left:101px;top:1299.8px">E</div>
<div class="lab" style="left:168.65px;top:1301.7px;transform:scaleX(0.9546)">ANGLE DU TUBE DE DIRECTION</div>
<div class="v" style="left:510.0px;top:1301.9px">66,5°</div>
<div class="v" style="left:647.0px;top:1301.9px">66,5°</div>
<div class="v" style="left:784.0px;top:1301.9px">66,5°</div>
<div class="v" style="left:921.0px;top:1301.9px">66,5°</div>
<div class="v" style="left:1058.0px;top:1301.9px">66,5°</div>
<div class="tb" style="left:55px;top:1328px;width:1140px;height:37px;background:#f3f3f3"></div>
<div class="c" style="left:101px;top:1337.2px">F</div>
<div class="lab" style="left:168.66px;top:1339.1px;transform:scaleX(0.9423)">DÉPORT DE FOURCHE</div>
<div class="mm" style="left:338.8px;top:1343.3px">(mm)</div>
<div class="v" style="left:510.0px;top:1339.3px">46</div>
<div class="v" style="left:647.0px;top:1339.3px">46</div>
<div class="v" style="left:784.0px;top:1339.3px">46</div>
<div class="v" style="left:921.0px;top:1339.3px">46</div>
<div class="v" style="left:1058.0px;top:1339.3px">46</div>
<div class="tb" style="left:55px;top:1365px;width:1140px;height:38px;background:#f9f9f9"></div>
<div class="c" style="left:101px;top:1374.6px">G</div>
<div class="lab" style="left:168.70px;top:1376.5px;transform:scaleX(0.9000)">TRAIL</div>
<div class="mm" style="left:216.2px;top:1380.7px">(mm)</div>
<div class="v" style="left:510.0px;top:1376.7px">109</div>
<div class="v" style="left:647.0px;top:1376.7px">109</div>
<div class="v" style="left:784.0px;top:1376.7px">109</div>
<div class="v" style="left:921.0px;top:1376.7px">109</div>
<div class="v" style="left:1058.0px;top:1376.7px">109</div>
<div class="tb" style="left:55px;top:1403px;width:1140px;height:37px;background:#f3f3f3"></div>
<div class="c" style="left:101px;top:1412.0px">H</div>
<div class="lab" style="left:168.62px;top:1413.9px;transform:scaleX(0.9780)">EMPATTEMENT</div>
<div class="mm" style="left:289.3px;top:1418.1px">(mm)</div>
<div class="v" style="left:510.0px;top:1414.1px">1169</div>
<div class="v" style="left:647.0px;top:1414.1px">1184</div>
<div class="v" style="left:784.0px;top:1414.1px">1210</div>
<div class="v" style="left:921.0px;top:1414.1px">1231</div>
<div class="v" style="left:1058.0px;top:1414.1px">1259</div>
<div class="tb" style="left:55px;top:1440px;width:1140px;height:38px;background:#f9f9f9"></div>
<div class="c" style="left:101px;top:1449.5px">I</div>
<div class="lab" style="left:168.68px;top:1451.4px;transform:scaleX(0.9246)">LONGUEUR DES BASES</div>
<div class="mm" style="left:346.8px;top:1455.6px">(mm)</div>
<div class="v" style="left:510.0px;top:1451.6px">470</div>
<div class="v" style="left:647.0px;top:1451.6px">470</div>
<div class="v" style="left:784.0px;top:1451.6px">470</div>
<div class="v" style="left:921.0px;top:1451.6px">470</div>
<div class="v" style="left:1058.0px;top:1451.6px">470</div>
<div class="tb" style="left:55px;top:1478px;width:1140px;height:37px;background:#f3f3f3"></div>
<div class="c" style="left:101px;top:1486.9px">J</div>
<div class="lab" style="left:168.65px;top:1488.8px;transform:scaleX(0.9467)">HAUTEUR DU BOITIER DE PÉDALIER</div>
<div class="mm" style="left:443.7px;top:1493.0px">(mm)</div>
<div class="v" style="left:510.0px;top:1489.0px">15</div>
<div class="v" style="left:647.0px;top:1489.0px">15</div>
<div class="v" style="left:784.0px;top:1489.0px">15</div>
<div class="v" style="left:921.0px;top:1489.0px">15</div>
<div class="v" style="left:1058.0px;top:1489.0px">15</div>
<div class="tb" style="left:55px;top:1515px;width:1140px;height:37px;background:#f9f9f9"></div>
<div class="c" style="left:101px;top:1524.3px">K</div>
<div class="lab" style="left:168.67px;top:1526.2px;transform:scaleX(0.9269)">STACK</div>
<div class="mm" style="left:222.1px;top:1530.4px">(mm)</div>
<div class="v" style="left:510.0px;top:1526.4px">579</div>
<div class="v" style="left:647.0px;top:1526.4px">579</div>
<div class="v" style="left:784.0px;top:1526.4px">584</div>
<div class="v" style="left:921.0px;top:1526.4px">593</div>
<div class="v" style="left:1058.0px;top:1526.4px">611</div>
<div class="tb" style="left:55px;top:1552px;width:1140px;height:38px;background:#f3f3f3"></div>
<div class="c" style="left:101px;top:1561.7px">L</div>
<div class="lab" style="left:168.68px;top:1563.6px;transform:scaleX(0.9236)">REACH</div>
<div class="mm" style="left:224.7px;top:1567.8px">(mm)</div>
<div class="v" style="left:510.0px;top:1563.8px">403</div>
<div class="v" style="left:647.0px;top:1563.8px">418</div>
<div class="v" style="left:784.0px;top:1563.8px">442</div>
<div class="v" style="left:921.0px;top:1563.8px">460</div>
<div class="v" style="left:1058.0px;top:1563.8px">479</div>
<div class="tb" style="left:55px;top:1590px;width:1140px;height:37px;background:#f9f9f9"></div>
<div class="c" style="left:101px;top:1599.1px">M</div>
<div class="lab" style="left:168.63px;top:1601.0px;transform:scaleX(0.9656)">HAUTEUR EN STATIQUE</div>
<div class="mm" style="left:353.5px;top:1605.2px">(mm)</div>
<div class="v" style="left:510.0px;top:1601.2px">728</div>
<div class="v" style="left:647.0px;top:1601.2px">739</div>
<div class="v" style="left:784.0px;top:1601.2px">740</div>
<div class="v" style="left:921.0px;top:1601.2px">772</div>
<div class="v" style="left:1058.0px;top:1601.2px">792</div>
<div class="tb" style="left:55px;top:1627px;width:1140px;height:38px;background:#f3f3f3"></div>
<div class="c" style="left:101px;top:1636.6px">N</div>
<div class="lab" style="left:168.67px;top:1638.5px;transform:scaleX(0.9292)">LARGEUR DE CINTRE</div>
<div class="mm" style="left:330.0px;top:1642.7px">(mm)</div>
<div class="v" style="left:510.0px;top:1638.7px">780</div>
<div class="v" style="left:647.0px;top:1638.7px">780</div>
<div class="v" style="left:784.0px;top:1638.7px">780</div>
<div class="v" style="left:921.0px;top:1638.7px">780</div>
<div class="v" style="left:1058.0px;top:1638.7px">780</div>
<div class="tb" style="left:55px;top:1665px;width:1140px;height:37px;background:#f9f9f9"></div>
<div class="c" style="left:101px;top:1674.0px">O</div>
<div class="lab" style="left:168.65px;top:1675.9px;transform:scaleX(0.9530)">LONGUEUR DE POTENCE</div>
<div class="mm" style="left:362.6px;top:1680.1px">(mm)</div>
<div class="v" style="left:510.0px;top:1676.1px">40</div>
<div class="v" style="left:647.0px;top:1676.1px">40</div>
<div class="v" style="left:784.0px;top:1676.1px">50</div>
<div class="v" style="left:921.0px;top:1676.1px">50</div>
<div class="v" style="left:1058.0px;top:1676.1px">60</div>
<div class="tb" style="left:55px;top:1702px;width:1140px;height:38px;background:#f3f3f3"></div>
<div class="c" style="left:101px;top:1711.4px">P</div>
<div class="lab" style="left:168.65px;top:1713.3px;transform:scaleX(0.9455)">LONGUEUR DES MANIVELLES</div>
<div class="mm" style="left:396.1px;top:1717.5px">(mm)</div>
<div class="v" style="left:510.0px;top:1713.5px">160</div>
<div class="v" style="left:647.0px;top:1713.5px">160</div>
<div class="v" style="left:784.0px;top:1713.5px">165</div>
<div class="v" style="left:921.0px;top:1713.5px">165</div>
<div class="v" style="left:1058.0px;top:1713.5px">170</div>
<div class="tb" style="left:55px;top:1740px;width:1140px;height:37px;background:#f9f9f9"></div>
<div class="c" style="left:101px;top:1748.8px">Q</div>
<div class="lab" style="left:168.67px;top:1750.7px;transform:scaleX(0.9315)">DIAMÈTRE DES ROUES</div>
<div class="v" style="left:510.0px;top:1750.9px">27.5+</div>
<div class="v" style="left:647.0px;top:1750.9px">27.5+</div>
<div class="v" style="left:784.0px;top:1750.9px">27.5+</div>
<div class="v" style="left:921.0px;top:1750.9px">27.5+</div>
<div class="v" style="left:1058.0px;top:1750.9px">27.5+</div>
<div class="tb" style="left:55px;top:1141px;width:1140px;height:1px;background:#bdbdbd"></div>
<div class="tb" style="left:55px;top:1178px;width:1140px;height:1px;background:#ababab"></div>
<div class="tb" style="left:55px;top:1216px;width:1140px;height:1px;background:#ababab"></div>
<div class="tb" style="left:55px;top:1253px;width:1140px;height:1px;background:#ababab"></div>
<div class="tb" style="left:55px;top:1290px;width:1140px;height:1px;background:#ababab"></div>
<div class="tb" style="left:55px;top:1328px;width:1140px;height:1px;background:#ababab"></div>
<div class="tb" style="left:55px;top:1365px;width:1140px;height:1px;background:#ababab"></div>
<div class="tb" style="left:55px;top:1403px;width:1140px;height:1px;background:#ababab"></div>
<div class="tb" style="left:55px;top:1440px;width:1140px;height:1px;background:#ababab"></div>
<div class="tb" style="left:55px;top:1478px;width:1140px;height:1px;background:#ababab"></div>
<div class="tb" style="left:55px;top:1515px;width:1140px;height:1px;background:#ababab"></div>
<div class="tb" style="left:55px;top:1552px;width:1140px;height:1px;background:#ababab"></div>
<div class="tb" style="left:55px;top:1590px;width:1140px;height:1px;background:#ababab"></div>
<div class="tb" style="left:55px;top:1627px;width:1140px;height:1px;background:#ababab"></div>
<div class="tb" style="left:55px;top:1665px;width:1140px;height:1px;background:#ababab"></div>
<div class="tb" style="left:55px;top:1702px;width:1140px;height:1px;background:#ababab"></div>
<div class="tb" style="left:55px;top:1740px;width:1140px;height:1px;background:#ababab"></div>
<div class="tb" style="left:55px;top:1777px;width:1140px;height:1px;background:#ababab"></div>
</body></html>
